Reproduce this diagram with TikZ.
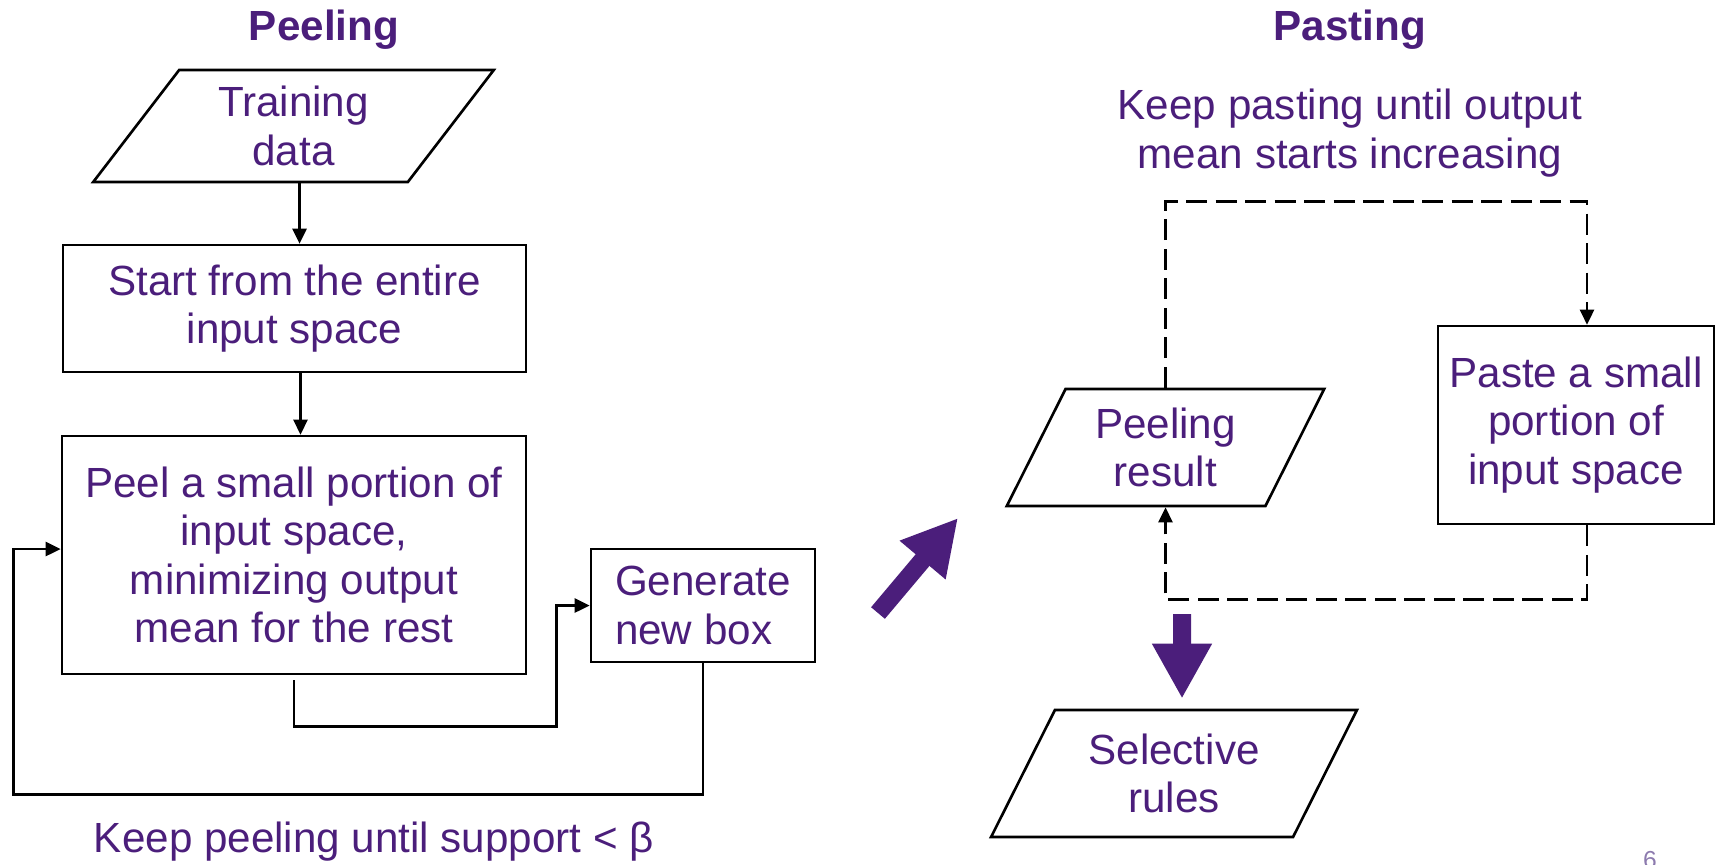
\documentclass[tikz,border=0pt]{standalone}
\usepackage{fontspec}
\setmainfont{Liberation Sans}
\usepackage{tikz}
\usetikzlibrary{arrows.meta,shapes.geometric,calc}
\definecolor{ink}{HTML}{4B1E7B}
\definecolor{pagegray}{HTML}{8C7AAE}
\tikzset{
  box/.style={draw=black, line width=0.75pt, align=center, text=ink, inner sep=0pt},
  data/.style={draw=black, line width=0.75pt, trapezium, trapezium stretches=true, align=center, text=ink, inner sep=0pt},
  arrow/.style={-{Triangle[length=1.5mm,width=1.4mm]}, line width=0.75pt, draw=black},
  dashedarrow/.style={arrow, dash pattern=on 2.1mm off 0.85mm},
  bigarrow/.style={-{Triangle[length=5.5mm,width=5.6mm]}, line width=1.8mm, draw=ink},
  title/.style={font=\fontsize{12}{13.8}\selectfont\bfseries, text=ink},
  note/.style={align=center, text=ink}
}
\begin{document}
\begin{tikzpicture}[x=0.1mm, y=-0.1mm, font=\fontsize{12}{13.8}\selectfont]
  \useasboundingbox (0,0) rectangle (1732,864);

  \node[title] (peeltitle) at (324,30) {Peeling};
  \node[title] (pastetitle) at (1350,30) {Pasting};

  \node[data, trapezium left angle=54.5, trapezium right angle=125.5, minimum width=40.1mm, minimum height=11.2mm] (train) at (293.5,126) {Training\\data};
  \node[box, minimum width=46.3mm, minimum height=12.7mm] (start) at (294.5,308.5) {Start from the entire\\input space};
  \node[box, minimum width=46.4mm, minimum height=23.8mm] (peel) at (294,555) {Peel a small portion of\\input space,\\minimizing output\\mean for the rest};
  \node[box, align=left, minimum width=22.4mm, minimum height=11.3mm] (gen) at (703,605.5) {Generate\\new box};
  \node[note] (peelnote) at (374,842) {Keep peeling until support < β};

  \draw[arrow] ([xshift=0.6mm]train.south) -- ([xshift=0.6mm]train.south |- start.north);
  \draw[arrow] ([xshift=0.6mm]start.south) -- ([xshift=0.6mm]start.south |- peel.north);
  \draw[arrow] ([yshift=-0.5mm]peel.south) -- ++(0,46) -| ($(gen.west)+(-33,0)$) -- (gen.west);
  \draw[arrow] (gen.south) -- ++(0,131) -| ($(peel.west)+(-47,-6)$) -- ($(peel.west)+(0,-6)$);

  \coordinate (diagtail) at (878,613);
  \coordinate (diagtip) at (958,518);
  \draw[bigarrow] (diagtail) -- (diagtip);

  \node[note] (pastenote) at (1350,133) {Keep pasting until output\\mean starts increasing};
  \node[data, trapezium left angle=62.5, trapezium right angle=117.5, minimum width=31.8mm, minimum height=11.7mm] (peelres) at (1165.5,447.5) {Peeling\\result};
  \node[box, minimum width=27.6mm, minimum height=19.8mm] (paste) at (1576,425) {Paste a small\\portion of\\input space};
  \node[data, trapezium left angle=60, trapezium right angle=120, minimum width=36.8mm, minimum height=12.7mm] (rules) at (1174,773.5) {Selective\\rules};

  \draw[dashedarrow] (peelres.north) -- ++(0,-186) -| ([xshift=1.1mm]paste.north);
  \draw[dashedarrow] ([xshift=1.1mm]paste.south) -- ++(0,74) -| (peelres.south);

  \coordinate (downtail) at (1182,614);
  \draw[bigarrow] (downtail) -- ($(rules.north)+(8,-10)$);

  \node[font=\fontsize{7}{8}\selectfont, text=pagegray, anchor=base] (pagenum) at (1650,868) {6};
\end{tikzpicture}
\end{document}
